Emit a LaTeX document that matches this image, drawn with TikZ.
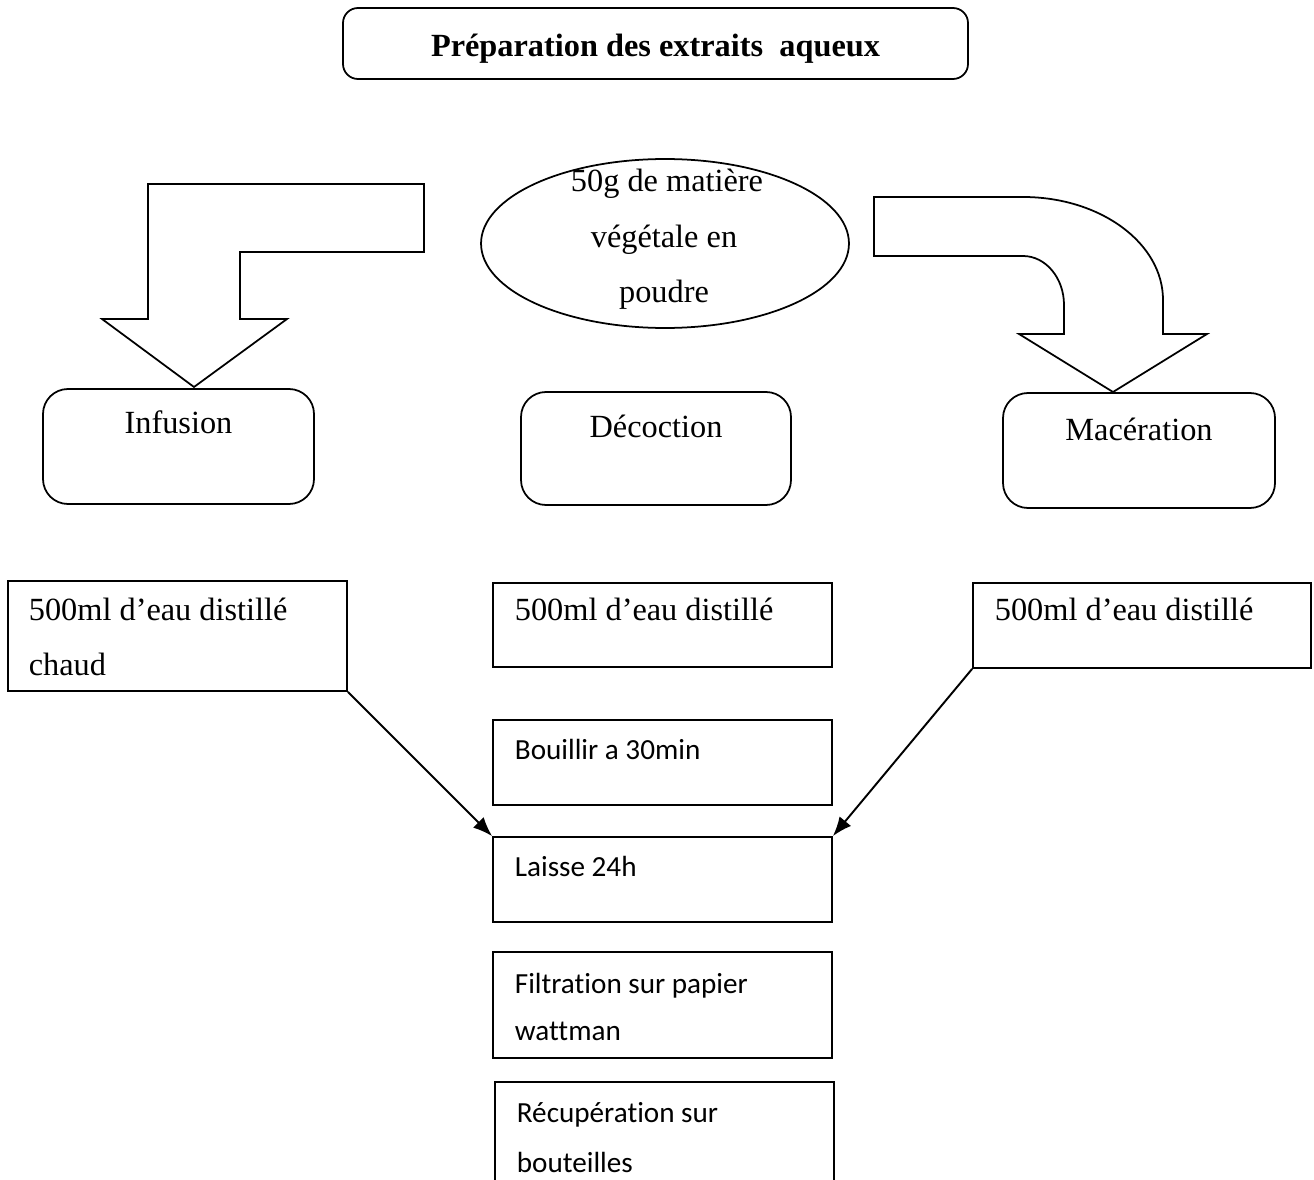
\documentclass[tikz,border=0pt]{standalone}
\usepackage{fontspec}
\setmainfont{Liberation Serif}
\newfontfamily\calibri[RawFeature={-liga;-clig;-dlig}]{Carlito}
\usetikzlibrary{shapes.geometric,fit,arrows.meta}
\begin{document}
\begin{tikzpicture}[x=0.02cm,y=-0.02cm,
  line width=1pt,
  rbox/.style={draw,rounded corners=0.5cm,inner sep=0pt},
  sbox/.style={draw,rectangle,inner sep=0pt},
  tbox/.style={draw,rounded corners=0.3cm,inner sep=0pt},
  tms/.style={inner sep=0pt,font=\fontsize{18.4}{22}\selectfont},
  cal/.style={inner sep=0pt,font=\calibri\fontsize{16.6}{20}\selectfont},
  conn/.style={-{Latex[length=11pt,width=8.5pt]},line width=1.1pt},
  bigarrow/.style={draw,line width=1pt,line join=miter}]
\useasboundingbox (0,0) rectangle (1314,1179);
\clip (0,0) rectangle (1314,1179);

% title
\node[tbox,fit={(343,8) (968,79)}] (title) {};
\node[tms,anchor=base,font=\bfseries\fontsize{18.4}{22}\selectfont] (titletxt) at (655.5,57) {Préparation des extraits\ \ aqueux};

% ellipse
\node[draw,ellipse,minimum width=7.36cm,minimum height=3.38cm,inner sep=0pt] (mat) at (665,243.5) {};
\node[tms,anchor=base] (mat1) at (667,192) {50g de matière};
\node[tms,anchor=base] (mat2) at (664,247) {végétale en};
\node[tms,anchor=base] (mat3) at (664,302) {poudre};

% bent arrow left
\draw[bigarrow] (148,184) -- (424,184) -- (424,252) -- (240,252) -- (240,319)
  -- (287,319) -- (194,387) -- (102,319) -- (148,319) -- cycle;

% curved arrow right
\draw[bigarrow] (874,197) -- (1023,197)
  .. controls (1100.3,197) and (1163,243.1) .. (1163,300)
  -- (1163,334) -- (1207,334) -- (1113,392) -- (1019,334) -- (1064,334) -- (1064,305)
  .. controls (1064,277.9) and (1045.6,256) .. (1023,256)
  -- (874,256) -- cycle;

% method boxes
\node[rbox,fit={(43,389) (314,504)}] (inf) {};
\node[tms,anchor=base] (inftxt) at (178.5,433) {Infusion};
\node[rbox,fit={(521,392) (791,505)}] (dec) {};
\node[tms,anchor=base] (dectxt) at (656,437) {Décoction};
\node[rbox,fit={(1003,393) (1275,508)}] (mac) {};
\node[tms,anchor=base] (mactxt) at (1139,440) {Macération};

% water boxes
\node[sbox,fit={(8,581) (347,691)}] (lw) {};
\node[tms,anchor=base west] (lw1) at (28,620) {500ml d’eau distillé};
\node[tms,anchor=base west] (lw2) at (28,675) {chaud};
\node[sbox,fit={(493,583) (832,667)}] (mw) {};
\node[tms,anchor=base west] (mw1) at (514,620) {500ml d’eau distillé};
\node[sbox,fit={(973,583) (1311,668)}] (rw) {};
\node[tms,anchor=base west] (rw1) at (994,620) {500ml d’eau distillé};

% steps
\node[sbox,fit={(493,720) (832,805)}] (bou) {};
\node[cal,anchor=base west] (boutxt) at (514,759) {Bouillir a 30min};
\node[sbox,fit={(493,837) (832,922)}] (lai) {};
\node[cal,anchor=base west] (laitxt) at (514,876) {Laisse 24h};
\node[sbox,fit={(493,952) (832,1058)}] (fil) {};
\node[cal,anchor=base west] (fil1) at (514,993) {Filtration sur papier};
\node[cal,anchor=base west] (fil2) at (514,1040) {wattman};
\node[sbox,fit={(495,1082) (834,1240)}] (rec) {};
\node[cal,anchor=base west] (rec1) at (516,1122) {Récupération sur};
\node[cal,anchor=base west] (rec2) at (516,1172) {bouteilles};

% connectors
\draw[conn] (lw.south east) -- (lai.north west);
\draw[conn] (rw.south west) -- (lai.north east);
\end{tikzpicture}
\end{document}
